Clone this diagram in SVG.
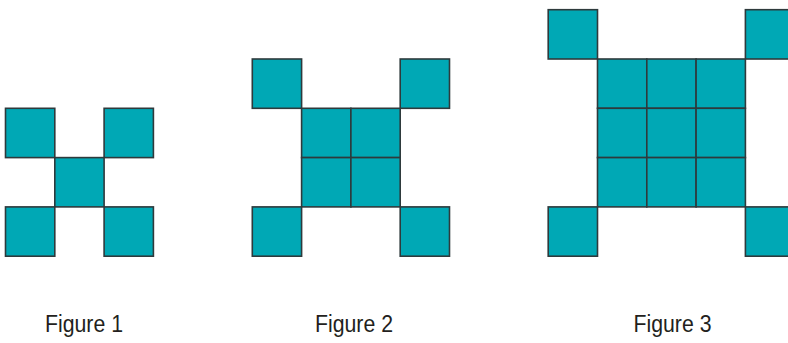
<svg xmlns="http://www.w3.org/2000/svg" width="788" height="343" viewBox="0 0 788 343">
<style>
.sq{fill:#00a8b5;stroke:#2e3a3c;stroke-width:1.6}
.lbl{font-family:"Liberation Sans",Arial,sans-serif;font-size:23px;fill:#231f20}
</style>
<defs>
<rect id="s" class="sq" width="49.3" height="49.3"/>
</defs>
<rect width="788" height="343" fill="#fff"/>
<g id="figure1">
<use href="#s" x="5.5" y="108.3"/>
<use href="#s" x="104.1" y="108.3"/>
<use href="#s" x="54.8" y="157.6"/>
<use href="#s" x="5.5" y="206.9"/>
<use href="#s" x="104.1" y="206.9"/>
</g>
<g id="figure2">
<use href="#s" x="252.3" y="59"/>
<use href="#s" x="400.2" y="59"/>
<use href="#s" x="301.6" y="108.3"/>
<use href="#s" x="350.9" y="108.3"/>
<use href="#s" x="301.6" y="157.6"/>
<use href="#s" x="350.9" y="157.6"/>
<use href="#s" x="252.3" y="206.9"/>
<use href="#s" x="400.2" y="206.9"/>
</g>
<g id="figure3">
<use href="#s" x="548.2" y="9.7"/>
<use href="#s" x="745.4" y="9.7"/>
<use href="#s" x="597.5" y="59"/>
<use href="#s" x="646.8" y="59"/>
<use href="#s" x="696.1" y="59"/>
<use href="#s" x="597.5" y="108.3"/>
<use href="#s" x="646.8" y="108.3"/>
<use href="#s" x="696.1" y="108.3"/>
<use href="#s" x="597.5" y="157.6"/>
<use href="#s" x="646.8" y="157.6"/>
<use href="#s" x="696.1" y="157.6"/>
<use href="#s" x="548.2" y="206.9"/>
<use href="#s" x="745.4" y="206.9"/>
</g>
<g id="labels">
<text class="lbl" x="45" y="332.3" textLength="78" lengthAdjust="spacingAndGlyphs">Figure 1</text>
<text class="lbl" x="315" y="332.3" textLength="78" lengthAdjust="spacingAndGlyphs">Figure 2</text>
<text class="lbl" x="633.5" y="332.3" textLength="78" lengthAdjust="spacingAndGlyphs">Figure 3</text>
</g>
</svg>
